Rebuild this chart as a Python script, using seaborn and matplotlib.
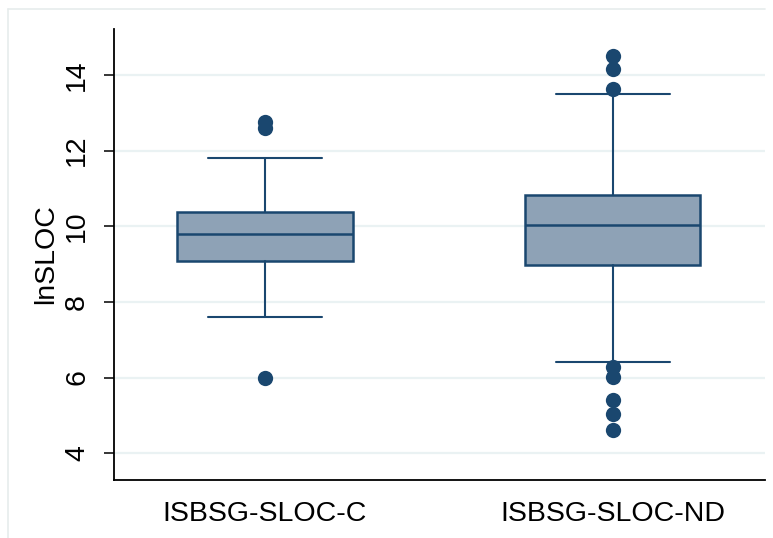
import matplotlib
matplotlib.use("Agg")
import matplotlib.pyplot as plt
import seaborn as sns
import pandas as pd

# ---- data ----
groups = ["ISBSG-SLOC-C", "ISBSG-SLOC-ND"]
q1 = [9.08, 8.99]
median = [9.79, 10.03]
q3 = [10.38, 10.83]
whisker_low = [7.60, 6.41]
whisker_high = [11.80, 13.50]
outliers_c = [6.00, 12.60, 12.75]
outliers_nd = [4.61, 5.03, 5.40, 6.01, 6.27, 13.63, 14.16, 14.50]
yticks = [4, 6, 8, 10, 12, 14]
ylabel = "lnSLOC"

navy = "#1a476f"
fill = "#8ea2b6"
gridc = "#eaf2f3"

sns.set_theme(style="white")
plt.rcParams["font.family"] = ["Liberation Sans", "DejaVu Sans"]

fig = plt.figure(figsize=(7.73, 5.38), dpi=100)
ax = fig.add_axes([114 / 773, 1 - 480 / 538, (765 - 114) / 773, (480 - 29) / 538])

stats = []
for i, g in enumerate(groups):
    stats.append(dict(label=g, med=median[i], q1=q1[i], q3=q3[i],
                      whislo=whisker_low[i], whishi=whisker_high[i], fliers=[]))

ax.bxp(stats, positions=[0, 1], widths=0.503, patch_artist=True, showfliers=False,
       boxprops=dict(facecolor=fill, edgecolor=navy, linewidth=1.8),
       medianprops=dict(color=navy, linewidth=1.8),
       whiskerprops=dict(color=navy, linewidth=1.5),
       capprops=dict(color=navy, linewidth=1.5),
       capwidths=0.33, zorder=3)

out_df = pd.DataFrame({
    "group": [groups[0]] * len(outliers_c) + [groups[1]] * len(outliers_nd),
    "value": outliers_c + outliers_nd,
})
sns.stripplot(data=out_df, x="group", y="value", order=groups, jitter=False,
              color=navy, size=11, linewidth=0, ax=ax, zorder=4)

ax.set_xlim(-0.434, 1.437)
ax.set_ylim(3.29, 15.22)
ax.set_yticks(yticks)
ax.set_yticklabels([str(t) for t in yticks], rotation=90, va="center")
ax.set_xticks([0, 1])
ax.set_xticklabels(groups)
ax.yaxis.grid(True, color=gridc, linewidth=1.6, zorder=0)
ax.xaxis.grid(False)
ax.set_axisbelow(True)

ax.tick_params(axis="y", which="major", length=7.2, width=1.1, color="black",
               pad=10, labelsize=20.5, left=True)
ax.tick_params(axis="x", which="major", length=0, pad=15, labelsize=20.5)
for lab in ax.get_xticklabels() + ax.get_yticklabels():
    lab.set_color("black")

ax.set_xlabel("")
ax.set_ylabel(ylabel, fontsize=20.5, color="black")
ax.yaxis.set_label_coords(-(114 - 59) / 651, 0.5)

sns.despine(ax=ax, top=True, right=True)
for s in ["left", "bottom"]:
    ax.spines[s].set_color("black")
    ax.spines[s].set_linewidth(1.3)
ax.set_facecolor("white")

# outer light frame (graph region border)
fig.add_artist(plt.Line2D([8 / 773, 8 / 773], [0, 1 - 9 / 538], transform=fig.transFigure,
                          color="#e6ecec", linewidth=1.2))
fig.add_artist(plt.Line2D([8 / 773, 765 / 773], [1 - 9 / 538, 1 - 9 / 538], transform=fig.transFigure,
                          color="#e6ecec", linewidth=1.2))

fig.savefig("out.png", dpi=100, facecolor="white")
